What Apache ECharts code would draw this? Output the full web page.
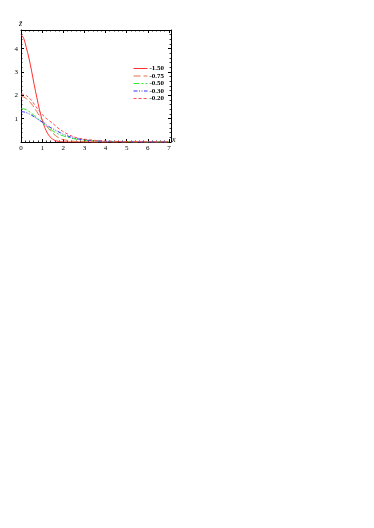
<!DOCTYPE html>
<html>
<head>
<meta charset="utf-8">
<script src="https://cdn.jsdelivr.net/npm/echarts@6/dist/echarts.min.js"></script>
<style>html,body{margin:0;padding:0;background:#fff}#c{width:374px;height:528px}</style>
</head>
<body>
<div id="c"></div>
<script>
var xs = [0, 0.125, 0.25, 0.375, 0.5, 0.625, 0.75, 0.875, 1.0, 1.125, 1.25, 1.375, 1.5, 1.625, 1.75, 1.875, 2.0, 2.5, 3.0, 3.5, 4.0, 5.0, 6.0, 7.0];
var seriesNames = ['-1.50', '-0.75', '-0.50', '-0.30', '-0.20'];
var s150 = [4.6, 4.45, 4.05, 3.6, 3.05, 2.45, 1.9, 1.38, 0.95, 0.62, 0.38, 0.22, 0.12, 0.06, 0.03, 0.015, 0.005, 0.0, 0.0, 0.0, 0.0, 0.0, 0.0, 0.0];
var s075 = [1.95, 1.93, 1.86, 1.76, 1.63, 1.47, 1.3, 1.12, 0.95, 0.79, 0.64, 0.5, 0.38, 0.28, 0.2, 0.14, 0.1, 0.03, 0.01, 0.0, 0.0, 0.0, 0.0, 0.0];
var s050 = [1.43, 1.42, 1.38, 1.31, 1.23, 1.13, 1.03, 0.94, 0.85, 0.75, 0.65, 0.56, 0.48, 0.41, 0.35, 0.3, 0.26, 0.14, 0.08, 0.05, 0.03, 0.01, 0.0, 0.0];
var s030 = [1.3, 1.29, 1.26, 1.21, 1.15, 1.08, 1.0, 0.93, 0.86, 0.78, 0.7, 0.63, 0.57, 0.51, 0.45, 0.39, 0.33, 0.17, 0.09, 0.05, 0.03, 0.01, 0.0, 0.0];
var s020 = [2.06, 2.04, 1.99, 1.9, 1.78, 1.62, 1.46, 1.31, 1.18, 1.07, 0.97, 0.89, 0.8, 0.7, 0.6, 0.52, 0.44, 0.22, 0.12, 0.07, 0.04, 0.02, 0.01, 0.0];
var xTicks = [0, 1, 2, 3, 4, 5, 6, 7];
var yTicks = [1, 2, 3, 4];

var allVals = [s150, s075, s050, s030, s020];
var colors = ['#ff3030', '#e57048', '#30e830', '#3030ff', '#ff5050'];
var dashes = ['solid', [7, 3], [6, 2, 2, 2], [4, 1.5, 1, 1.5, 1, 1.5], [3, 2]];

function pairs(v) { return xs.map(function (x, i) { return [x, v[i]]; }); }

var font = 'Liberation Serif';
function axisCommon() {
  return {
    type: 'value',
    axisLine: { show: true, onZero: false, lineStyle: { color: '#000', width: 1 } },
    axisTick: { show: true, inside: true, length: 3, lineStyle: { color: '#000', width: 1 } },
    minorTick: { show: true, splitNumber: 5, length: 1.5, lineStyle: { color: '#000', width: 0.8 } },
    splitLine: { show: false },
    interval: 1
  };
}

var chart = echarts.init(document.getElementById('c'), null, { renderer: 'canvas' });
chart.setOption({
  animation: false,
  backgroundColor: '#fff',
  grid: { left: 21, right: 203, top: 30, bottom: 386, containLabel: false },
  xAxis: [
    Object.assign(axisCommon(), {
      min: 0, max: 7.1, position: 'bottom',
      axisLabel: { show: true, fontFamily: font, fontSize: 7, color: '#000', margin: 3,
        formatter: function (v) { return xTicks.indexOf(v) >= 0 ? String(v) : ''; } }
    }),
    Object.assign(axisCommon(), {
      min: 0, max: 7.1, position: 'top', axisLabel: { show: false }
    })
  ],
  yAxis: [
    Object.assign(axisCommon(), {
      min: 0, max: 4.8, position: 'left',
      axisLabel: { show: true, fontFamily: font, fontSize: 7, color: '#000', margin: 3,
        formatter: function (v) { return yTicks.indexOf(v) >= 0 ? String(v) : ''; } }
    }),
    Object.assign(axisCommon(), {
      min: 0, max: 4.8, position: 'right', axisLabel: { show: false }
    })
  ],
  legend: {
    orient: 'vertical', left: 133, top: 65, padding: 0,
    itemWidth: 14, itemHeight: 6, itemGap: 0.5,
    data: seriesNames,
    itemStyle: { opacity: 0 },
    lineStyle: { width: 1 },
    textStyle: { fontFamily: font, fontSize: 7, lineHeight: 7, fontWeight: 'bold', color: '#000', padding: [0, 0, 0, -3] }
  },
  graphic: [
    { type: 'text', left: 19, top: 20, style: { text: 'z\u0304', font: 'italic 8px "Liberation Serif"', fill: '#000' } },
    { type: 'text', left: 172, top: 136, style: { text: 'x', font: 'italic 8px "Liberation Serif"', fill: '#000' } }
  ],
  series: allVals.map(function (v, i) {
    return {
      name: seriesNames[i], type: 'line', smooth: 0.3, symbol: 'none',
      xAxisIndex: 0, yAxisIndex: 0,
      data: pairs(v),
      lineStyle: { color: colors[i], width: 1, type: dashes[i] },
      itemStyle: { color: colors[i] }
    };
  })
});
</script>
</body>
</html>
